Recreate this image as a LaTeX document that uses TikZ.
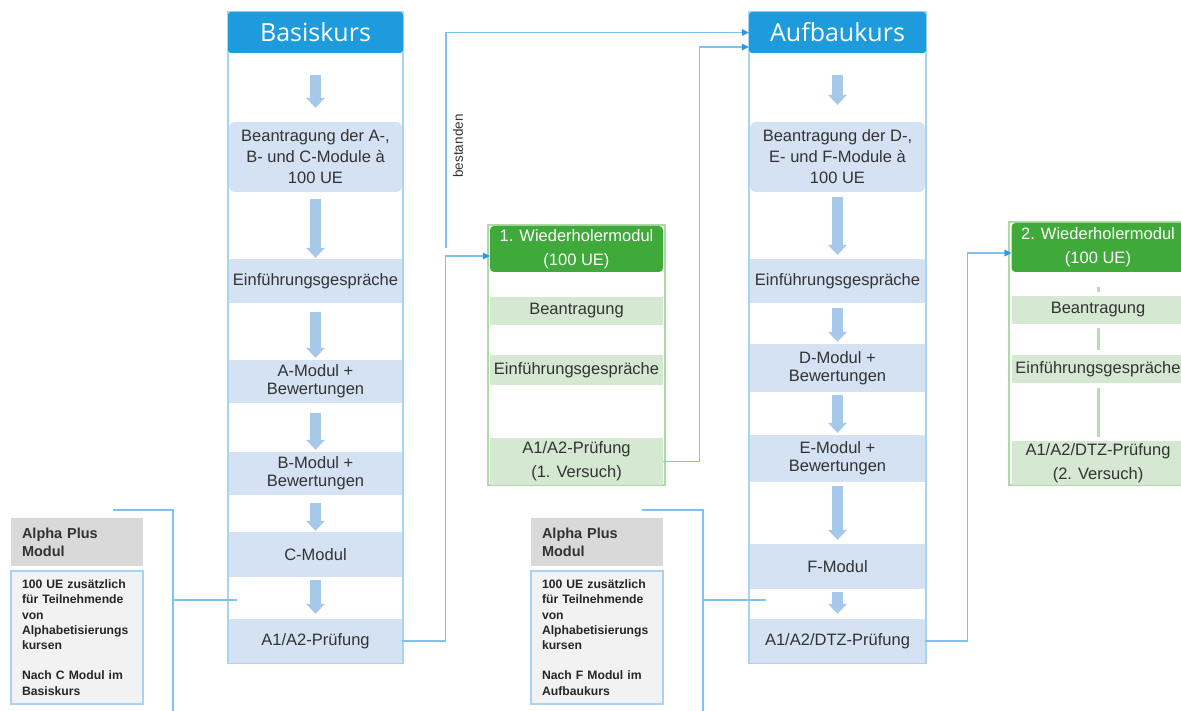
\documentclass[tikz,border=0pt]{standalone}
\usepackage{fontspec}
\setmainfont{Liberation Sans}
\newfontfamily\headfont{Open Sans}
\usetikzlibrary{arrows.meta,positioning}

\definecolor{headblue}{HTML}{1E9BDD}
\definecolor{frameblue}{HTML}{A9D3F2}
\definecolor{boxblue}{HTML}{D4E2F3}
\definecolor{arrowblue}{HTML}{A6C8E9}
\definecolor{linkblue}{HTML}{7FC2EE}
\definecolor{tipblue}{HTML}{2A9BE0}
\definecolor{headgreen}{HTML}{3FAA3A}
\definecolor{boxgreen}{HTML}{D5E8D2}
\definecolor{framegreen}{HTML}{A9DBA2}
\definecolor{bargreen}{HTML}{B9DDB3}
\definecolor{alphagray}{HTML}{D9D9D9}
\definecolor{alphafill}{HTML}{F2F2F2}
\definecolor{textgray}{HTML}{333333}

\begin{document}
\begin{tikzpicture}[x=1pt, y=-1pt,
        colhead/.style={rectangle, rounded corners=3pt, fill=headblue, text=white, minimum width=175pt, minimum height=41pt, inner sep=0pt, font=\headfont\fontsize{25}{30}\selectfont},
        stepbox/.style={rectangle, fill=boxblue, minimum width=173pt, inner sep=0pt, align=center, text=textgray, font=\fontsize{16.5}{18}\selectfont},
        greenhead/.style={rectangle, rounded corners=4pt, fill=headgreen, text=white, minimum width=173pt, inner sep=0pt, align=center, font=\fontsize{16.5}{24}\selectfont},
        greenbox/.style={rectangle, fill=boxgreen, minimum width=173pt, inner sep=0pt, align=center, text=textgray, font=\fontsize{16.5}{24}\selectfont},
        alphahead/.style={rectangle, fill=alphagray, minimum height=48pt, text width=110pt, inner xsep=11pt, align=left, text=textgray, font=\bfseries\fontsize{14.5}{18}\selectfont},
        alphabody/.style={rectangle, fill=alphafill, draw=frameblue, line width=1.2pt, minimum height=133pt, text width=110pt, inner xsep=11pt, align=left, text=black!85, font=\bfseries\fontsize{12.2}{15.2}\selectfont},
        colframe/.style={draw=frameblue, line width=1.6pt},
        greenframe/.style={draw=framegreen, line width=1.4pt},
        blockarrow/.style={draw=arrowblue, line width=11pt, -{Triangle[width=19pt,length=10pt,line width=0pt]}},
        greenbar/.style={draw=bargreen, line width=3pt},
        link/.style={draw=linkblue, line width=1.2pt},
        linkarrow/.style={link, -{Triangle[length=7pt,width=7pt,line width=0pt,color=tipblue]}}]
        \useasboundingbox[fill=white] (0,0) rectangle (1181,711);

        % Frames
        \draw[colframe] (228,12) rectangle (403,663);
        \draw[colframe] (749,12) rectangle (926,663);
        \draw[greenframe] (488,225) rectangle (665,485);
        \draw[greenframe] (1009,222) rectangle (1190,485);

        % Nodes: Basiskurs
        \node (bhead) [colhead] at (315.5,32.5) {Basiskurs};
        \node (bantrag) [stepbox, rounded corners=6pt, minimum height=70pt, font=\fontsize{16.5}{21}\selectfont] at (315.5,157) {Beantragung der A-,\\B- und C-Module à\\100 UE};
        \node (beinf) [stepbox, minimum height=44pt] at (315.5,281) {Einführungsgespräche};
        \node (bmodA) [stepbox, minimum height=43pt] at (315.5,381.5) {A-Modul +\\Bewertungen};
        \node (bmodB) [stepbox, minimum height=43pt] at (315.5,473.5) {B-Modul +\\Bewertungen};
        \node (bmodC) [stepbox, minimum height=45pt] at (315.5,554.5) {C-Modul};
        \node (bpruef) [stepbox, minimum height=44pt] at (315.5,641) {A1/A2-Prüfung};

        % Nodes: Aufbaukurs
        \node (ahead) [colhead, minimum width=177pt] at (837.5,32.5) {Aufbaukurs};
        \node (aantrag) [stepbox, minimum width=175pt, rounded corners=6pt, minimum height=70pt, font=\fontsize{16.5}{21}\selectfont] at (837.5,157) {Beantragung der D-,\\E- und F-Module à\\100 UE};
        \node (aeinf) [stepbox, minimum width=175pt, minimum height=44pt] at (837.5,281) {Einführungsgespräche};
        \node (amodD) [stepbox, minimum width=175pt, minimum height=48pt] at (837.5,368) {D-Modul +\\Bewertungen};
        \node (amodE) [stepbox, minimum width=175pt, minimum height=47pt] at (837.5,458.5) {E-Modul +\\Bewertungen};
        \node (amodF) [stepbox, minimum width=175pt, minimum height=45pt] at (837.5,566.5) {F-Modul};
        \node (apruef) [stepbox, minimum width=175pt, minimum height=44pt] at (837.5,641) {A1/A2/DTZ-Prüfung};

        % Nodes: Wiederholermodule
        \node (w1head) [greenhead, minimum height=46pt] at (576.5,249) {1. Wiederholermodul\\(100 UE)};
        \node (w1antrag) [greenbox, minimum height=28pt] at (576.5,311) {Beantragung};
        \node (w1einf) [greenbox, minimum height=30pt] at (576.5,370) {Einführungsgespräche};
        \node (w1pruef) [greenbox, minimum height=47pt] at (576.5,461.5) {A1/A2-Prüfung\\(1. Versuch)};
        \node (w2head) [greenhead, minimum height=49pt] at (1098,247.5) {2. Wiederholermodul\\(100 UE)};
        \node (w2antrag) [greenbox, minimum height=28pt] at (1098,310) {Beantragung};
        \node (w2einf) [greenbox, minimum height=28pt] at (1098,369) {Einführungsgespräche};
        \node (w2pruef) [greenbox, minimum height=44pt] at (1098,463) {A1/A2/DTZ-Prüfung\\(2. Versuch)};

        % Nodes: Alpha Plus
        \node (a1head) [alphahead] at (77,542) {Alpha Plus\\Modul};
        \node (a1body) [alphabody] at (77,637.5) {100 UE zusätzlich\\für Teilnehmende\\von\\Alphabetisierungs\\kursen\\[15.2pt]Nach C Modul im\\Basiskurs};
        \node (a2head) [alphahead] at (597,542) {Alpha Plus\\Modul};
        \node (a2body) [alphabody] at (597,637.5) {100 UE zusätzlich\\für Teilnehmende\\von\\Alphabetisierungs\\kursen\\[15.2pt]Nach F Modul im\\Aufbaukurs};
        \node (best) [rotate=90, text=textgray, font=\fontsize{13.5}{15}\selectfont] at (458,146) {bestanden};

        % Edges: block arrows
        \draw[blockarrow, shorten <=22pt, shorten >=14pt] (bhead) -- (bantrag);
        \draw[blockarrow, shorten <=7pt, shorten >=1pt] (bantrag) -- (beinf);
        \draw[blockarrow, shorten <=9pt, shorten >=2pt] (beinf) -- (bmodA);
        \draw[blockarrow, shorten <=10pt, shorten >=2pt] (bmodA) -- (bmodB);
        \draw[blockarrow, shorten <=8pt, shorten >=1pt] (bmodB) -- (bmodC);
        \draw[blockarrow, shorten <=3pt, shorten >=5pt] (bmodC) -- (bpruef);
        \draw[blockarrow, shorten <=22pt, shorten >=17pt] (ahead) -- (aantrag);
        \draw[blockarrow, shorten <=5pt, shorten >=4pt] (aantrag) -- (aeinf);
        \draw[blockarrow, shorten <=5pt, shorten >=2pt] (aeinf) -- (amodD);
        \draw[blockarrow, shorten <=3pt, shorten >=2pt] (amodD) -- (amodE);
        \draw[blockarrow, shorten <=4pt, shorten >=4pt] (amodE) -- (amodF);
        \draw[blockarrow, shorten <=3pt, shorten >=5pt] (amodF) -- (apruef);
        \draw[greenbar, shorten <=15pt, shorten >=4pt] (w2head) -- (w2antrag);
        \draw[greenbar, shorten <=4pt, shorten >=5pt] (w2antrag) -- (w2einf);
        \draw[greenbar, shorten <=5pt, shorten >=4pt] (w2einf) -- (w2pruef);

        % Edges: links
        \coordinate (bestfoot) at (446,248);
        \draw[linkarrow] (bpruef.east) -- ++(43,0) |- ([yshift=-7pt]w1head.west);
        \draw[linkarrow] (bestfoot) |- (ahead.west);
        \draw[linkarrow] (w1pruef.east) -- ++(36,0) |- ([yshift=-14.5pt]ahead.west);
        \draw[linkarrow] (apruef.east) -- ++(42,0) |- ([yshift=-5.5pt]w2head.west);

        % Edges: Alpha Plus
        \coordinate (a1top) at (113,510);
        \coordinate (a1bot) at (173,711);
        \coordinate (a1in) at (237,600);
        \coordinate (a2top) at (642,510);
        \coordinate (a2bot) at (703,711);
        \coordinate (a2in) at (766,600);
        \draw[link] (a1top) -| (a1bot);
        \draw[link] (a1in) -- (a1in -| a1bot);
        \draw[link] (a2top) -| (a2bot);
        \draw[link] (a2in) -- (a2in -| a2bot);

    \end{tikzpicture}
\end{document}
